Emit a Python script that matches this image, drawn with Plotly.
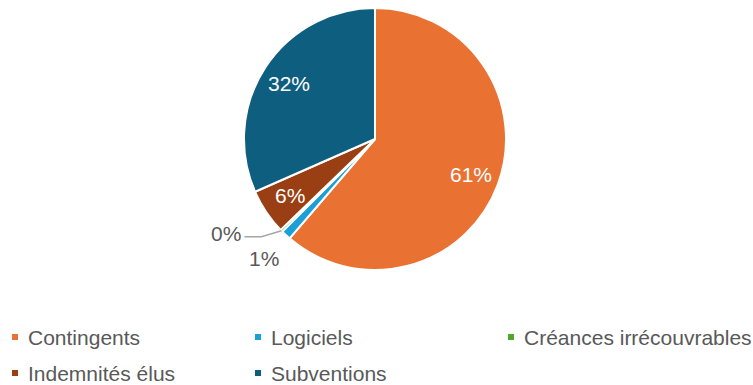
import math
import plotly.graph_objects as go

# Budget breakdown
labels = ["Contingents", "Logiciels", "Créances irrécouvrables", "Indemnités élus", "Subventions"]
values = [61.3, 1.2, 0.3, 5.6, 31.6]
colors = ["#E97132", "#1A9FD8", "#4EA72E", "#9A3F13", "#0E5E80"]
inside = [True, False, False, True, True]

W, H = 753, 385
CX, CY, R = 375, 139, 131   # pie centre and radius, px
FONT = "Liberation Sans, Arial, sans-serif"
GREY = "#595959"
FS = 21

total = sum(values)
pct_text = [f"{round(v / total * 100)}%" for v in values]

fig = go.Figure(go.Pie(
    labels=labels,
    values=values,
    sort=False,
    direction="clockwise",
    rotation=0,
    marker=dict(colors=colors, line=dict(color="white", width=2)),
    textinfo="none",
    domain=dict(x=[(CX - R) / W, (CX + R) / W], y=[1 - (CY + R) / H, 1 - (CY - R) / H]),
    showlegend=False,
    hoverinfo="label+percent",
))


def to_paper(px, py):
    return px / W, 1 - py / H


def mid_angle(i):
    start = sum(values[:i]) / total * 360
    return math.radians(start + values[i] / total * 360 / 2)


def polar(a, r):
    return CX + r * math.sin(a), CY - r * math.cos(a)


annotations = []
shapes = []

# Percentage labels inside the large slices
for i, ins in enumerate(inside):
    if not ins:
        continue
    x, y = to_paper(*polar(mid_angle(i), 0.78 * R))
    annotations.append(dict(x=x, y=y, xref="paper", yref="paper", text=pct_text[i],
                            showarrow=False, xanchor="center", yanchor="middle",
                            font=dict(family=FONT, size=FS, color="white")))

# Logiciels: label placed radially just outside the slice
x, y = to_paper(*polar(mid_angle(1), R + 32))
annotations.append(dict(x=x, y=y, xref="paper", yref="paper", text=pct_text[1],
                        showarrow=False, xanchor="center", yanchor="middle",
                        font=dict(family=FONT, size=FS, color=GREY)))

# Créances irrécouvrables: label to the left with a leader line
ex, ey = polar(mid_angle(2), R)
kx, ky = ex - 20, ey + 6
tx, ty = kx - 17, ky
p = [to_paper(ex, ey), to_paper(kx, ky), to_paper(tx, ty)]
shapes.append(dict(type="path", xref="paper", yref="paper",
                   path=f"M{p[0][0]},{p[0][1]} L{p[1][0]},{p[1][1]} L{p[2][0]},{p[2][1]}",
                   line=dict(color="#A6A6A6", width=1.5)))
x, y = to_paper(tx - 2, ty - 3)
annotations.append(dict(x=x, y=y, xref="paper", yref="paper", text=pct_text[2],
                        showarrow=False, xanchor="right", yanchor="middle",
                        font=dict(family=FONT, size=FS, color=GREY)))

# Legend: 3 columns, 2 rows
col_x = [12, 255, 508]
row_y = [337, 373]
SQ = 6
for i, (lab, col) in enumerate(zip(labels, colors)):
    r, c = divmod(i, 3)
    sx, sy = col_x[c], row_y[r]
    x0, y0 = to_paper(sx, sy + SQ / 2)
    x1, y1 = to_paper(sx + SQ, sy - SQ / 2)
    shapes.append(dict(type="rect", xref="paper", yref="paper", x0=x0, y0=y0, x1=x1, y1=y1,
                       fillcolor=col, line=dict(width=0)))
    x, y = to_paper(sx + SQ + 8, sy)
    annotations.append(dict(x=x, y=y, xref="paper", yref="paper", text=lab,
                            showarrow=False, xanchor="left", yanchor="middle",
                            font=dict(family=FONT, size=FS, color=GREY)))

fig.update_layout(
    width=W, height=H,
    margin=dict(l=0, r=0, t=0, b=0),
    paper_bgcolor="white", plot_bgcolor="white",
    annotations=annotations,
    shapes=shapes,
)

fig.write_html("out.html")
